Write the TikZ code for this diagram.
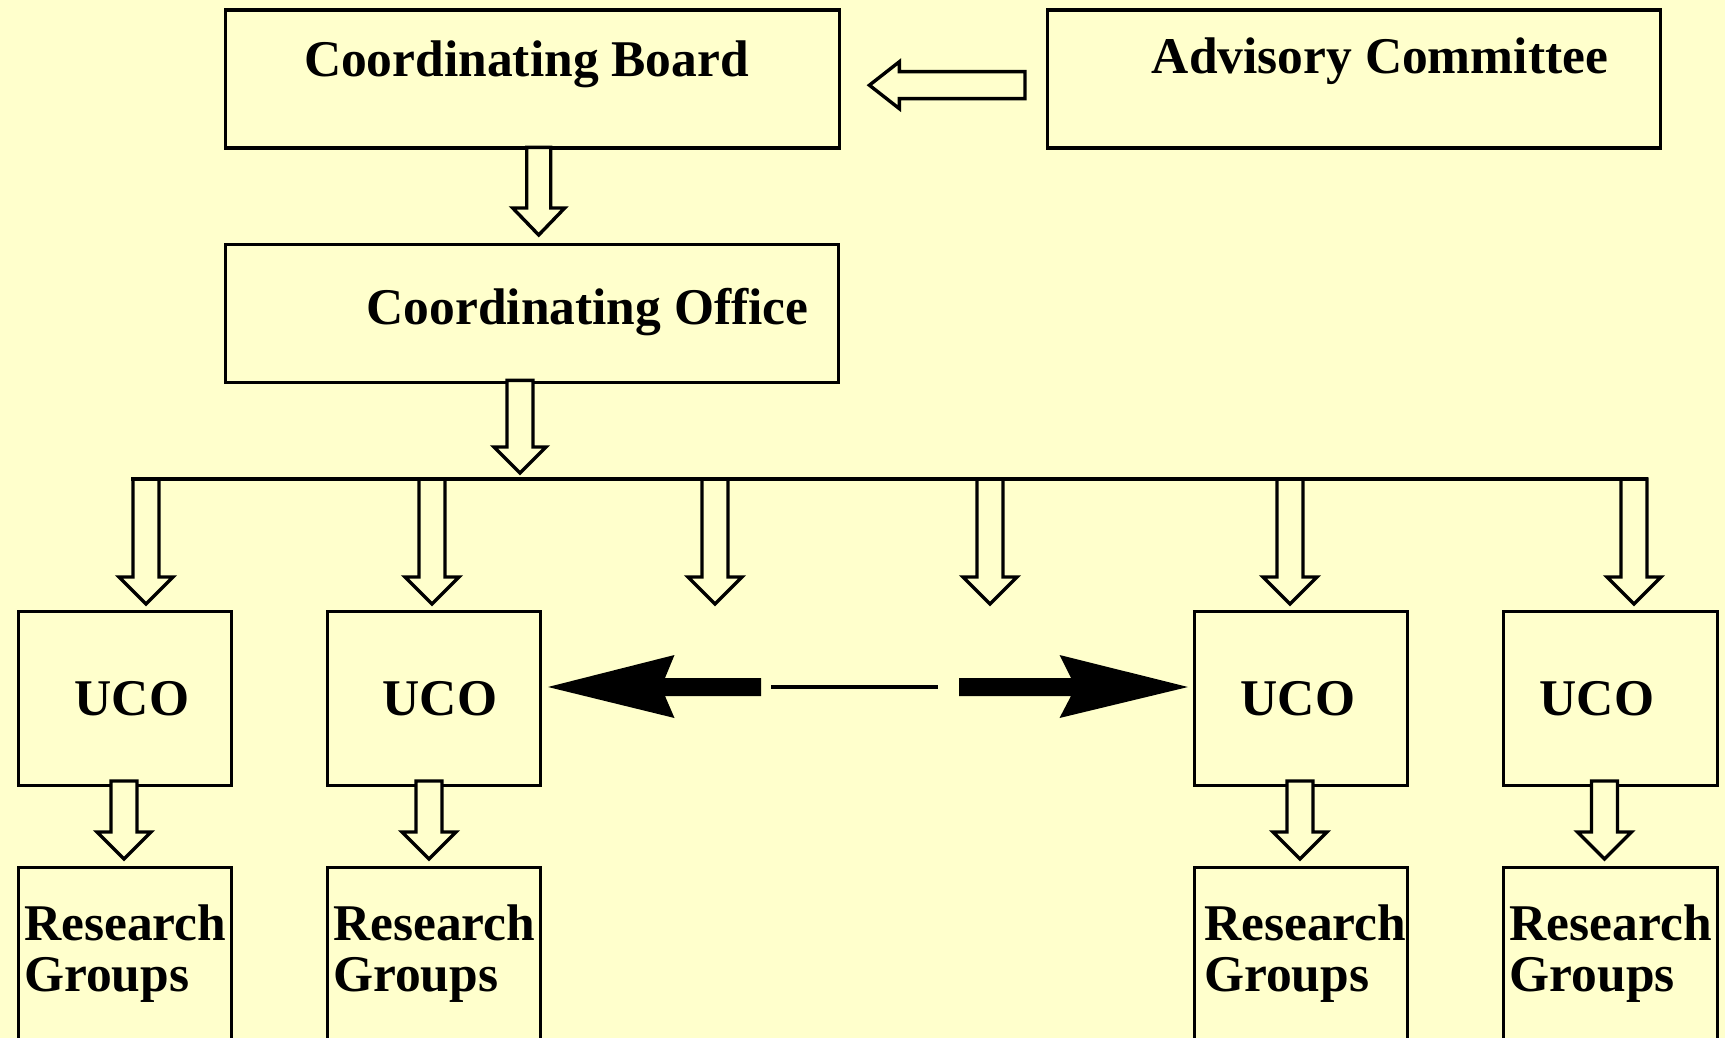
\documentclass[tikz,border=0pt]{standalone}
\usepackage{fontspec}
\setmainfont{Liberation Serif}
\usetikzlibrary{calc}
\definecolor{bg}{HTML}{FFFFCC}
\newcommand\downblock[5]{%
  \draw[blk] let \p1=(#1), \p2=(#2) in
  (\x2-#3pt,\y1) -- (\x2-#3pt,\y2+#5pt) -- (\x2-#4pt,\y2+#5pt) -- (\x2,\y2)
  -- (\x2+#4pt,\y2+#5pt) -- (\x2+#3pt,\y2+#5pt) -- (\x2+#3pt,\y1) -- cycle;}
\newcommand\leftblock[5]{%
  \draw[blk] let \p1=(#1), \p2=(#2) in
  (\x1,\y2+#3pt) -- (\x2+#5pt,\y2+#3pt) -- (\x2+#5pt,\y2+#4pt) -- (\x2,\y2)
  -- (\x2+#5pt,\y2-#4pt) -- (\x2+#5pt,\y2-#3pt) -- (\x1,\y2-#3pt) -- cycle;}
\begin{document}
\begin{tikzpicture}[x=1pt,y=-1pt,
  box/.style={draw, line width=3.4pt, inner sep=0pt, anchor=north west, fill=bg},
  txt/.style={inner sep=0pt, font=\fontsize{51.5}{51.5}\selectfont\bfseries},
  blk/.style={draw, line width=3.4pt, fill=bg, line join=miter},
  solidhead/.style={fill=black}]
\fill[bg] (0,0) rectangle (1725,1038);
\useasboundingbox (0,0) rectangle (1725,1038);
\clip (0,0) rectangle (1725,1038);

% top boxes
\node[box, minimum width=614pt, minimum height=138pt] (cb) at (224,8.5) {};
\node[box, minimum width=613pt, minimum height=138pt] (ac) at (1046,8.5) {};
\node[box, minimum width=613pt, minimum height=138pt] (co) at (224,243) {};
\node[txt, anchor=base] (cbt) at (526.5,77) {Coordinating Board};
\node[txt, anchor=base] (act) at (1380,73.3) {Advisory Committee};
\node[txt, anchor=base] (cot) at (587.5,324) {Coordinating Office};

% UCO boxes
\node[box, minimum width=213.5pt, minimum height=173.5pt] (u1) at (16.5,610) {};
\node[box, minimum width=213pt, minimum height=173.5pt] (u2) at (325.5,610) {};
\node[box, minimum width=213.5pt, minimum height=173.5pt] (u3) at (1192.5,610) {};
\node[box, minimum width=214pt, minimum height=173.5pt] (u4) at (1501.5,610) {};
\foreach \k/\x in {u1/132,u2/440,u3/1298,u4/1597}
  \node[txt, anchor=base] (\k t) at (\x,715) {UCO};

% Research group boxes
\node[box, minimum width=213.5pt, minimum height=240pt] (r1) at (16.5,866) {};
\node[box, minimum width=213pt, minimum height=240pt] (r2) at (325.5,866) {};
\node[box, minimum width=213.5pt, minimum height=240pt] (r3) at (1192.5,866) {};
\node[box, minimum width=214pt, minimum height=240pt] (r4) at (1501.5,866) {};
\foreach \k/\x in {r1/24,r2/333,r3/1204,r4/1509.5}
  \node[txt, anchor=base west, align=left] (\k t) at (\x,991.5) {Research\\Groups};

% Advisory -> Board
\coordinate (acout) at ([xshift=-21pt,yshift=-6pt]ac.west);
\coordinate (cbin) at ([xshift=28pt,yshift=-6pt]cb.east);
\leftblock{acout}{cbin}{13.5}{23.5}{30}

% Board -> Office
\coordinate (cbout) at ([xshift=6pt,yshift=2.5pt]cb.south);
\coordinate (coin) at ([xshift=6.5pt,yshift=8pt]co.north);
\downblock{cbout}{coin}{12}{26}{27}

% Office -> bus
\coordinate (busl) at (131,479);
\coordinate (busr) at (1648,479);
\coordinate (coout) at ([xshift=-10.5pt,yshift=4pt]co.south);
\coordinate (busin) at ($(busl)+(389,-6)$);
\downblock{coout}{busin}{13}{26}{26}

% bus -> UCO level
\foreach \x/\k in {146/a,432/b,715/c,990/d,1290/e,1634/f}{
  \coordinate (bo\k) at (\x,479);
  \coordinate (bt\k) at (\x,604);
  \downblock{bo\k}{bt\k}{13}{27}{27}
}
\draw[line width=4.5pt] (busl) -- (busr);

% UCO -> Research Groups
\foreach \k/\x in {a/124,b/429,c/1300,d/1604.5}{
  \coordinate (us\k) at (\x,781);
  \coordinate (rt\k) at (\x,859);
  \downblock{us\k}{rt\k}{13}{27}{27}
}

% UCO <-> UCO link
\coordinate (ltip) at (548,687);
\coordinate (rtip) at (1188,687);
\fill[solidhead] (ltip) -- ++(126.5,-32) -- ++(-9.5,23) -- ++(96,0) -- ++(0,18)
  -- ++(-96,0) -- ++(9.5,22) -- cycle;
\fill[solidhead] (rtip) -- ++(-128.5,-32) -- ++(11.5,23) -- ++(-112,0) -- ++(0,18)
  -- ++(112,0) -- ++(-11.5,22) -- cycle;
\coordinate (thinl) at (771,687);
\coordinate (thinr) at (938,687);
\draw[line width=3.5pt] (thinl) -- (thinr);
\end{tikzpicture}
\end{document}
